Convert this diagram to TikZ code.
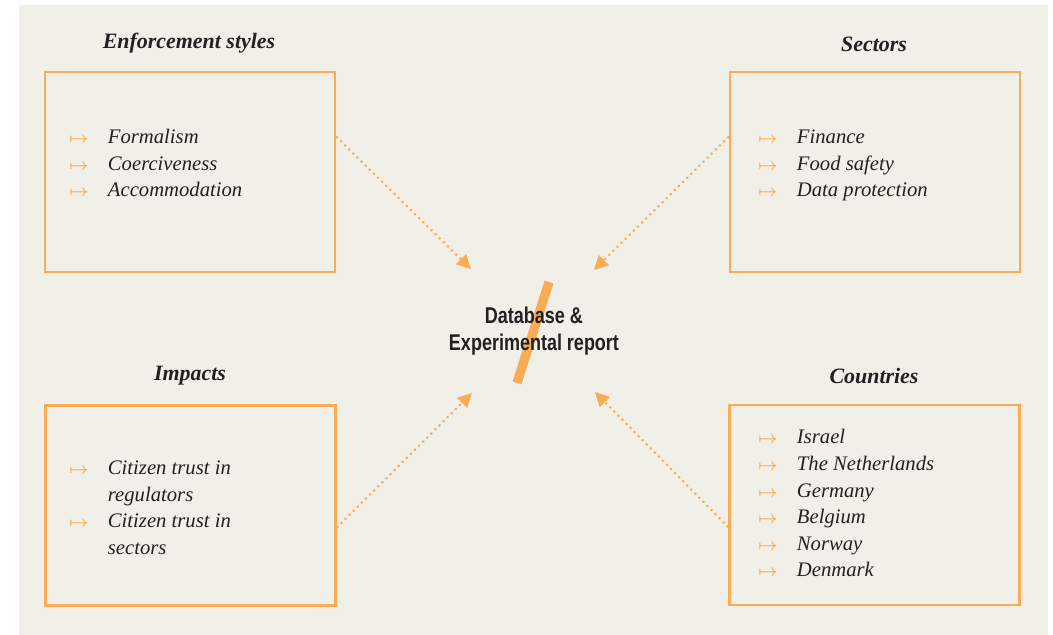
\documentclass[tikz,border=0pt]{standalone}
\usepackage{fontspec}
\setmainfont{Liberation Serif}
\newfontfamily\ctrfont[FakeStretch=0.79]{Liberation Sans}
\usepackage{tikz}
\usetikzlibrary{arrows.meta,positioning,calc}
\definecolor{dborange}{RGB}{250,172,84}
\definecolor{dbback}{RGB}{240,240,233}
\definecolor{dbink}{RGB}{34,32,32}
\newcommand{\arr}{{\fontsize{12}{12}\selectfont\boldmath\textcolor{dborange}{$\mapsto$}}}
\tikzset{
  panel/.style={draw=dborange, line width=1.5pt, minimum width=7.25cm, minimum height=5cm, inner sep=0pt},
  hdr/.style={font=\fontsize{15.6}{18}\selectfont\bfseries\itshape, text=dbink},
  lst/.style={font=\fontsize{14.7}{18.9}\selectfont\itshape, text=dbink, anchor=west, inner sep=0pt},
  ctr/.style={font=\ctrfont\fontsize{16.2}{19.2}\selectfont\bfseries, text=dbink, align=center},
  slash/.style={dborange, line width=6.6pt},
  feed/.style={-{Triangle[length=10pt, width=10pt]}, dborange, line width=1.5pt,
      dash pattern=on 1.5pt off 2.6pt},
}

\begin{document}
\begin{tikzpicture}[x=0.025cm, y=-0.025cm]
\useasboundingbox (0,0) rectangle (1053,635);
\fill[dbback] (19,5) rectangle (1048,635);
%---- centre
\draw[slash] (549,282) -- (517,383);
\node[ctr] (db) at (534,331) {Database \&\\Experimental report};
\coordinate (tipNW) at (471,269); \coordinate (tipNE) at (594,270);
\coordinate (tipSW) at (472,393); \coordinate (tipSE) at (595,392);
%---- enforcement styles
\node[panel] (enf) at (190,172) {};
\node[hdr] (enfT) at (189,43) {Enforcement styles};
\node[lst] (enfL) at (69,165) {\begin{tabular}{@{}p{27.5pt}@{}l@{}}
  \arr & Formalism\\ \arr & Coerciveness\\ \arr & Accommodation\end{tabular}};
%---- sectors
\node[panel] (sec) at (875,172) {};
\node[hdr] (secT) at (874,44) {Sectors};
\node[lst] (secL) at (758,165) {\begin{tabular}{@{}p{27.5pt}@{}l@{}}
  \arr & Finance\\ \arr & Food safety\\ \arr & Data protection\end{tabular}};
%---- impacts
\node[panel] (imp) at (190.5,505.5) {};
\node[hdr] (impT) at (190,376) {Impacts};
\node[lst] (impL) at (69,509) {\begin{tabular}{@{}p{27.5pt}@{}l@{}}
  \arr & Citizen trust in\\ & regulators\\ \arr & Citizen trust in\\ & sectors\end{tabular}};
%---- countries
\node[panel] (cou) at (874.5,505) {};
\node[hdr] (couT) at (874,376) {Countries};
\node[lst] (couL) at (758,505) {\begin{tabular}{@{}p{27.5pt}@{}l@{}}
  \arr & Israel\\ \arr & The Netherlands\\ \arr & Germany\\
  \arr & Belgium\\ \arr & Norway\\ \arr & Denmark\end{tabular}};
%---- dotted feeds
\draw[feed] ($(enf.north east)!0.325!(enf.south east)$) -- (tipNW);
\draw[feed] ($(sec.north west)!0.325!(sec.south west)$) -- (tipNE);
\draw[feed] ($(imp.north east)!0.61!(imp.south east)$) -- (tipSW);
\draw[feed] ($(cou.north west)!0.61!(cou.south west)$) -- (tipSE);
\end{tikzpicture}
\end{document}
